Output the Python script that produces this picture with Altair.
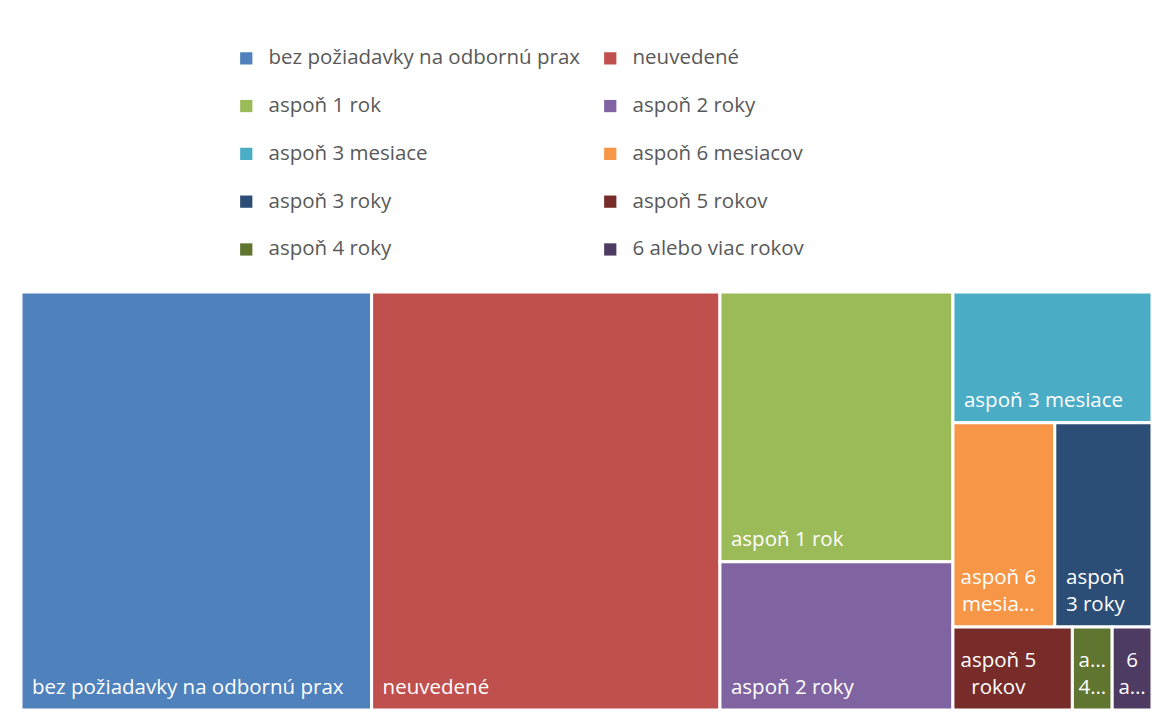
import altair as alt
import pandas as pd

categories = [
    "bez požiadavky na odbornú prax", "neuvedené", "aspoň 1 rok", "aspoň 2 roky",
    "aspoň 3 mesiace", "aspoň 6 mesiacov", "aspoň 3 roky", "aspoň 5 rokov",
    "aspoň 4 roky", "6 alebo viac rokov",
]
values = [310, 308, 133, 73, 55, 44, 42, 21, 7, 7]
colors = ["#4F81BD", "#C0504D", "#9BBB59", "#8064A2", "#4BACC6",
          "#F79646", "#2C4D75", "#772C2A", "#5F7530", "#4D3B62"]
# labels as displayed inside the tiles (wrapped / truncated)
tile_labels = [
    "bez požiadavky na odbornú prax", "neuvedené", "aspoň 1 rok", "aspoň 2 roky",
    "aspoň 3 mesiace", "aspoň 6\nmesia…", "aspoň\n3 roky", "aspoň 5\nrokov",
    "a…\n4…", "6\na…",
]

W, H = 1131.0, 418.0
FS = 20.5
LH = 27


def worst(row, short):
    s = sum(row)
    side = s / short
    r = 0
    for a in row:
        ln = a / side
        r = max(r, side / ln, ln / side)
    return r


def squarify(vals, x, y, w, h, tol=1.15):
    total = sum(vals)
    areas = [v / total * w * h for v in vals]
    rects = []
    i = 0
    while i < len(areas):
        short = min(w, h)
        row = [areas[i]]
        j = i + 1
        while j < len(areas) and worst(row + [areas[j]], short) <= worst(row, short) * tol:
            row.append(areas[j])
            j += 1
        s = sum(row)
        if w >= h:
            side = s / h
            yy = y
            for a in row:
                ln = a / side
                rects.append((x, yy, x + side, yy + ln))
                yy += ln
            x += side
            w -= side
        else:
            side = s / w
            xx = x
            for a in row:
                ln = a / side
                rects.append((xx, y, xx + ln, y + side))
                xx += ln
            y += side
            h -= side
        i = j
    return rects


rects = squarify(values, 0.0, 0.0, W, H)
rows = []
for c, v, lbl, (x0, y0, x1, y1) in zip(categories, values, tile_labels, rects):
    lines = lbl.split("\n")
    maxch = max(len(l) for l in lines)
    est_w = maxch * 0.48 * FS
    multi = len(lines) > 1
    cx = x0 + min(11 + est_w / 2, (x1 - x0) / 2)
    rows.append(dict(cat=c, value=v, label=lbl, x0=x0, y0=y0, x1=x1, y1=y1,
                     lx=x0 + 11, cx=cx, multi=multi))
df = pd.DataFrame(rows)

xs = alt.Scale(domain=[0, W], nice=False, zero=False)
ys = alt.Scale(domain=[0, H], nice=False, zero=False, reverse=True)

rect = alt.Chart(df).mark_rect(stroke="white", strokeWidth=3).encode(
    x=alt.X("x0:Q", scale=xs, axis=None),
    x2="x1:Q",
    y=alt.Y("y0:Q", scale=ys, axis=None),
    y2="y1:Q",
    color=alt.Color(
        "cat:N",
        scale=alt.Scale(domain=categories, range=colors),
        legend=alt.Legend(
            title=None, orient="none", legendX=215, legendY=-244, columns=2,
            direction="horizontal",
            symbolType="square", symbolSize=150, symbolStrokeWidth=0,
            labelFont="Open Sans", labelFontSize=FS, labelColor="#595959",
            labelOffset=12, rowPadding=26.8, columnPadding=19, labelLimit=500,
        ),
    ),
)

text_single = alt.Chart(df).transform_filter("!datum.multi").mark_text(
    align="left", baseline="bottom", dy=-12, color="white",
    font="Open Sans", fontSize=FS,
).encode(
    x=alt.X("lx:Q", scale=xs, axis=None),
    y=alt.Y("y1:Q", scale=ys, axis=None),
    text="label:N",
)

text_multi = alt.Chart(df).transform_filter("datum.multi").mark_text(
    align="center", baseline="bottom", dy=-12 - LH, color="white",
    font="Open Sans", fontSize=FS, lineBreak="\n", lineHeight=LH,
).encode(
    x=alt.X("cx:Q", scale=xs, axis=None),
    y=alt.Y("y1:Q", scale=ys, axis=None),
    text="label:N",
)

chart = alt.layer(rect, text_single, text_multi).properties(
    width=W, height=H,
    autosize=alt.AutoSizeParams(type="none"),
    padding={"left": 13, "top": 284, "right": 0, "bottom": 1},
    background="white",
).configure_view(stroke=None)

chart.save("out.html", embed_options={"renderer": "svg", "actions": False})
